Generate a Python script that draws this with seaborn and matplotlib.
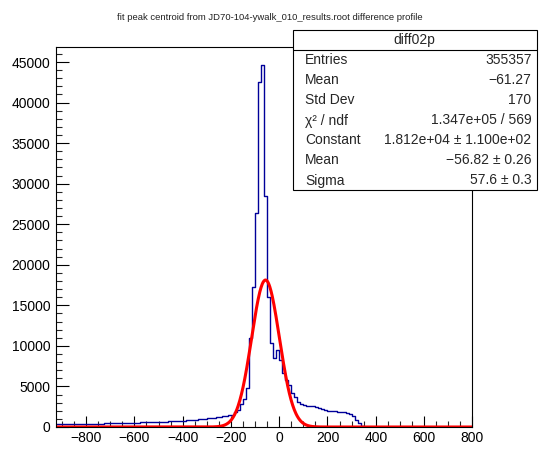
import numpy as np
import pandas as pd
import matplotlib
matplotlib.use("Agg")
import matplotlib.pyplot as plt
from matplotlib.patches import Rectangle
from matplotlib.lines import Line2D
from matplotlib.ticker import MultipleLocator
import seaborn as sns

# ---------------------
# Histogram data (bin width 12.5, first lower edge -925)
# ---------------------
first_edge = -925.0
bin_width = 12.5

# lower edges -925 ... -200
left_tail = [340, 350, 355, 360, 365, 370, 375, 380, 385, 390,
             400, 405, 410, 420, 425, 430, 440, 450, 455, 465,
             470, 480, 490, 500, 510, 520, 530, 545, 555, 570,
             580, 595, 610, 625, 640, 655, 670, 690, 705, 725,
             745, 765, 790, 815, 840, 870, 900, 935, 970, 1010,
             1050, 1100, 1150, 1200, 1260, 1320, 1390, 1460, 1540]
# lower edges -187.5 ... 100
peak = [1900, 2150, 2800, 3400, 4800, 11000, 17300, 26400, 42500, 44600,
        28500, 16000, 10400, 8500, 9500, 8200, 6700, 5800, 5200, 4200,
        3700, 3100, 2800, 2700]
# lower edges 112.5 ... 362.5
right_tail = [2600, 2600, 2550, 2500, 2350, 2250, 2100, 2000, 1980, 1950,
              1900, 1850, 1800, 1750, 1650, 1300, 900, 480, 170, 50, 20]
# lower edges 375 ... 787.5
far_right = [12, 10, 9, 8, 8, 7, 7, 6, 6, 6, 5, 5, 5, 4, 4, 4, 4,
             3, 3, 3, 3, 3, 2, 2, 2, 2, 2, 2, 2, 1, 1, 1, 1, 1]

counts = np.array(left_tail + peak + right_tail + far_right, dtype=float)
edges = first_edge + bin_width * np.arange(len(counts) + 1)
hist_df = pd.DataFrame({"center": edges[:-1] + bin_width / 2, "count": counts})

# Gaussian fit parameters (from the stats box)
fit_constant = 1.812e4
fit_mean = -56.82
fit_sigma = 57.6

stats_title = "diff02p"
stats_labels = ["Entries", "Mean", "Std Dev", "\u03c7\u00b2 / ndf", "Constant", "Mean", "Sigma"]
stats_values = ["355357", "\u221261.27", "170", "1.347e+05 / 569",
                "1.812e+04 \u00b1 1.100e+02", "\u221256.82 \u00b1 0.26", "57.6 \u00b1 0.3"]

title = "fit peak centroid from JD70-104-ywalk_010_results.root difference profile"

# ---------------------
# Plot
# ---------------------
sns.set_style("ticks", {"xtick.direction": "in", "ytick.direction": "in"})
plt.rcParams['font.family'] = ['Liberation Sans', 'DejaVu Sans']

W, H = 558, 474
fig = plt.figure(figsize=(W / 100, H / 100), dpi=100)
ax = fig.add_axes([56 / W, 1 - 427 / H, (472.3 - 56) / W, (427 - 47) / H])

sns.histplot(data=hist_df, x="center", weights="count", bins=edges.tolist(),
             element="step", fill=False, color="#000099", linewidth=1.0, ax=ax)

xs = np.linspace(first_edge, edges[-1], 1000)
ys = fit_constant * np.exp(-0.5 * ((xs - fit_mean) / fit_sigma) ** 2)
sns.lineplot(x=xs, y=ys, color="#ff0000", linewidth=2.2, estimator=None, ax=ax)

ax.set_xlim(first_edge, 800)
ax.set_ylim(0, 46850)
ax.set_xlabel("")
ax.set_ylabel("")

ax.xaxis.set_major_locator(MultipleLocator(200))
ax.xaxis.set_minor_locator(MultipleLocator(50))
ax.yaxis.set_major_locator(MultipleLocator(5000))
ax.yaxis.set_minor_locator(MultipleLocator(1000))
ax.tick_params(axis='x', which='major', length=8, width=0.8, pad=3, labelsize=10, colors='black')
ax.tick_params(axis='x', which='minor', length=4, width=0.8)
ax.tick_params(axis='y', which='major', length=9, width=0.8, pad=4, labelsize=10, colors='black')
ax.tick_params(axis='y', which='minor', length=4.5, width=0.8)
for s in ax.spines.values():
    s.set_color('black')
    s.set_linewidth(0.8)

fig.text(270 / W, 1 - 17 / H, title, ha='center', va='center', fontsize=6.8, color='#222222')

# stats box
bx0, bx1, by0, by1 = 292.7, 536.7, 30, 190
fig.add_artist(Rectangle((bx0 / W, 1 - by1 / H), (bx1 - bx0) / W, (by1 - by0) / H,
                         transform=fig.transFigure, facecolor='white',
                         edgecolor='black', linewidth=0.8, zorder=10))
fig.add_artist(Line2D([bx0 / W, bx1 / W], [1 - 50 / H, 1 - 50 / H],
                      transform=fig.transFigure, color='black', linewidth=0.8, zorder=11))
fig.text((bx0 + bx1) / 2 / W, 1 - 40 / H, stats_title, ha='center', va='center',
         fontsize=10, zorder=12)
for i, (lab, val) in enumerate(zip(stats_labels, stats_values)):
    yy = 1 - (60.5 + 20 * i) / H
    fig.text(305 / W, yy, lab, ha='left', va='center', fontsize=10, zorder=12)
    fig.text(531.5 / W, yy, val, ha='right', va='center', fontsize=10, zorder=12)

fig.savefig("out.png", dpi=100)
